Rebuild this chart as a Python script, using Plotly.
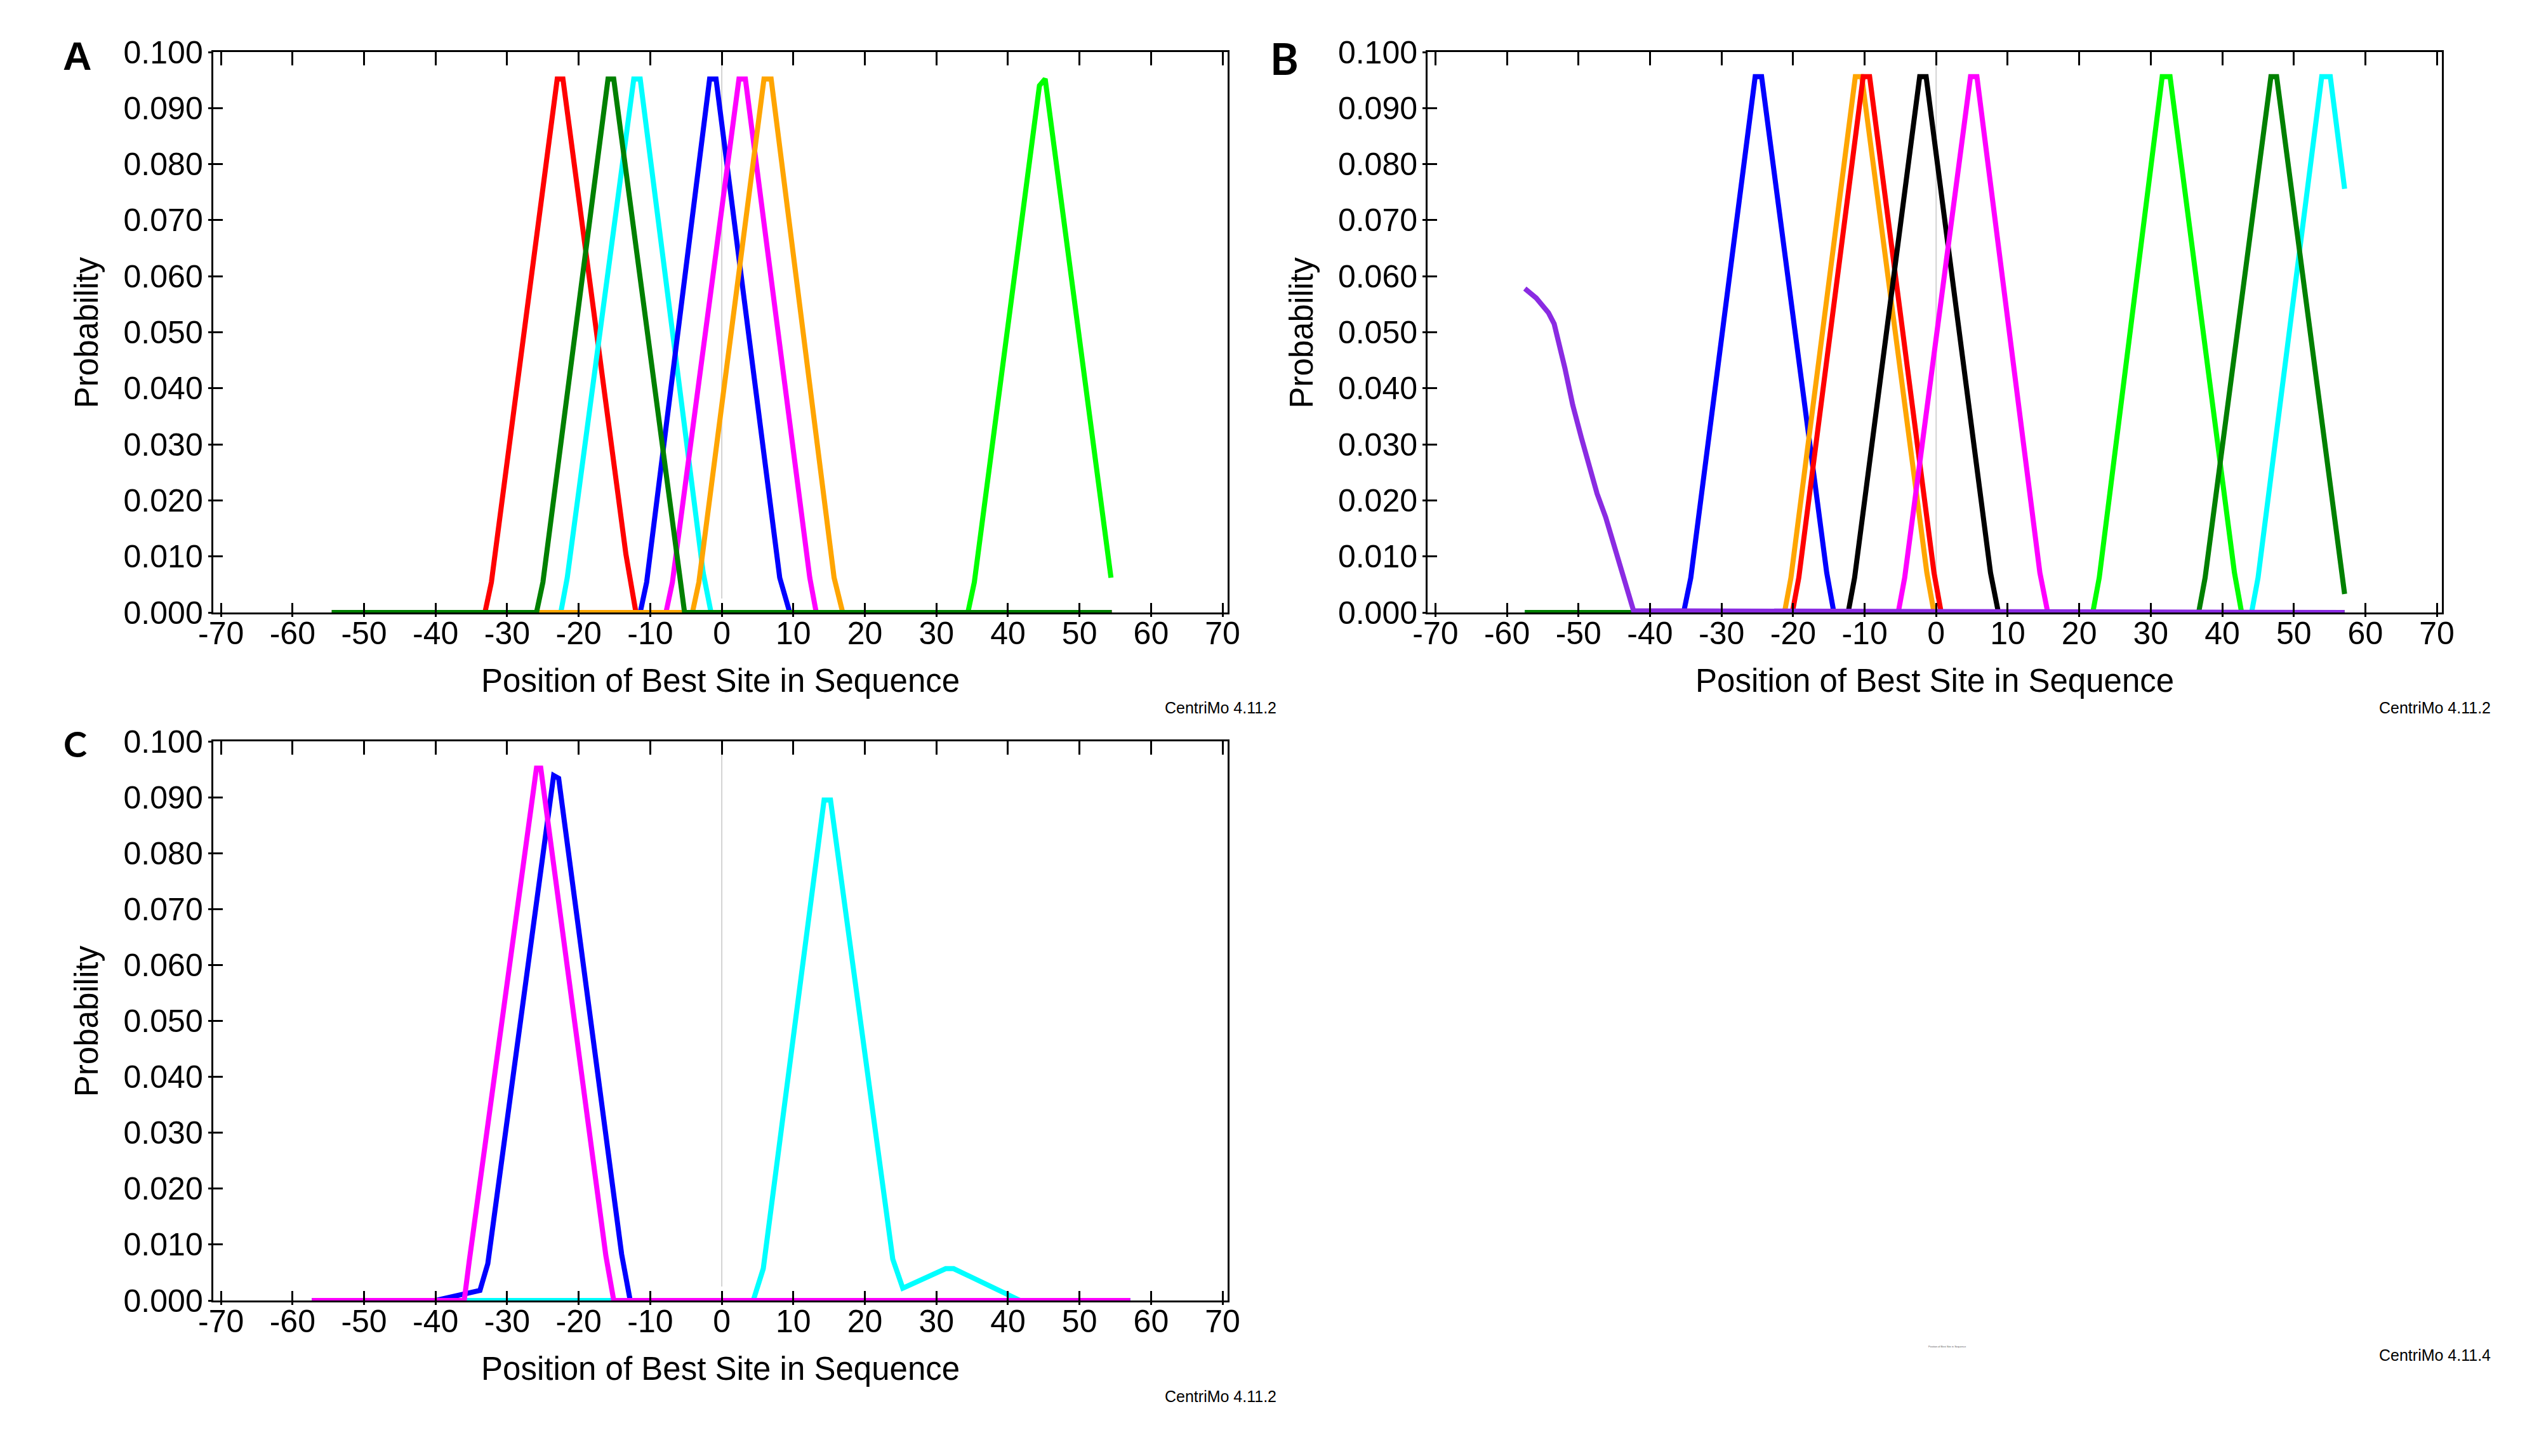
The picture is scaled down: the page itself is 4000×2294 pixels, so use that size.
import plotly.graph_objects as go

# ---- data ----
X_TICKS = list(range(-70, 71, 10))
X_LABELS = [str(v) for v in X_TICKS]
Y_TICKS = [0.0, 0.01, 0.02, 0.03, 0.04, 0.05, 0.06, 0.07, 0.08, 0.09, 0.1]
Y_LABELS = ["%.3f" % v for v in Y_TICKS]

# panel A
A_RED_X = [-54.5, -33.1, -32.2, -23.0, -22.2, -13.4, -12.0, 54.5]
A_RED_Y = [0, 0, 0.0054, 0.0952, 0.0952, 0.0104, 0, 0]
A_CYAN_X = [-54.5, -22.5, -21.6, -12.3, -11.4, -2.6, -1.5, 54.5]
A_CYAN_Y = [0, 0, 0.0062, 0.0952, 0.0952, 0.0071, 0, 0]
A_BLUE_X = [-54.5, -11.4, -10.5, -1.7, -0.8, 8.1, 9.5, 54.5]
A_BLUE_Y = [0, 0, 0.0054, 0.0952, 0.0952, 0.0062, 0, 0]
A_MAGENTA_X = [-54.5, -7.8, -6.9, 2.4, 3.3, 12.3, 13.2, 54.5]
A_MAGENTA_Y = [0, 0, 0.0054, 0.0952, 0.0952, 0.0062, 0, 0]
A_LIME_X = [-54.5, 34.4, 35.3, 44.4, 45.2, 54.4]
A_LIME_Y = [0, 0, 0.0054, 0.0940, 0.0952, 0.0062]
A_ORANGE_X = [-54.5, -4.1, -3.2, 5.9, 6.9, 15.7, 16.9, 54.5]
A_ORANGE_Y = [0, 0, 0.0054, 0.0952, 0.0952, 0.0062, 0, 0]
A_GREEN_X = [-54.5, -25.9, -25.0, -15.9, -15.1, -6.3, -5.2, 54.5]
A_GREEN_Y = [0, 0, 0.0054, 0.0952, 0.0952, 0.0096, 0, 0]

# panel B
B_BLUE_X = [-57.5, -35.3, -34.3, -25.3, -24.4, -15.3, -14.3, 57.1]
B_BLUE_Y = [0, 0, 0.0062, 0.0956, 0.0956, 0.0071, 0, 0]
B_ORANGE_X = [-57.5, -21.2, -20.3, -11.3, -10.4, -1.3, -0.3, 57.1]
B_ORANGE_Y = [0, 0, 0.0062, 0.0956, 0.0956, 0.0071, 0, 0]
B_RED_X = [-57.5, -20.1, -19.2, -10.2, -9.3, -0.3, 0.7, 57.1]
B_RED_Y = [0, 0, 0.0062, 0.0956, 0.0956, 0.0071, 0, 0]
B_BLACK_X = [-57.5, -12.3, -11.4, -2.3, -1.4, 7.6, 8.7, 57.1]
B_BLACK_Y = [0, 0, 0.0062, 0.0956, 0.0956, 0.0071, 0, 0]
B_MAGENTA_X = [-57.5, -5.3, -4.4, 4.8, 5.7, 14.5, 15.6, 57.1]
B_MAGENTA_Y = [0, 0, 0.0062, 0.0956, 0.0956, 0.0071, 0, 0]
B_LIME_X = [-57.5, 21.9, 22.8, 31.6, 32.7, 41.7, 42.7, 57.1]
B_LIME_Y = [0, 0, 0.0062, 0.0956, 0.0956, 0.0071, 0, 0]
B_CYAN_X = [-57.5, 44.1, 45.0, 53.9, 55.1, 57.1]
B_CYAN_Y = [0, 0, 0.0062, 0.0956, 0.0956, 0.0756]
B_GREEN_X = [-57.5, 36.7, 37.6, 46.8, 47.6, 57.1]
B_GREEN_Y = [0, 0, 0.0062, 0.0956, 0.0956, 0.0033]
B_PURPLE_X = [-57.5, -55.9, -54.2, -53.4, -51.9, -50.8, -49.6, -48.5,
              -47.4, -46.2, -45.1, -44.0, -43.2, -42.3, 57.1]
B_PURPLE_Y = [0.0578, 0.0561, 0.0535, 0.0515, 0.0436, 0.0370, 0.0312, 0.0262,
              0.0212, 0.0170, 0.0121, 0.0075, 0.0042, 0.0003, 0]

# panel C
C_BLUE_X = [-57.3, -40.0, -33.8, -32.7, -23.5, -22.8, -14.0, -12.8, 57.1]
C_BLUE_Y = [0, 0, 0.0018, 0.0066, 0.0939, 0.0934, 0.0083, 0, 0]
C_CYAN_X = [-57.3, 4.4, 5.8, 14.3, 15.2, 23.9, 25.3, 31.3, 32.4, 41.7, 57.1]
C_CYAN_Y = [0, 0, 0.0057, 0.0895, 0.0895, 0.0074, 0.0022, 0.0057, 0.0057, 0, 0]
C_MAGENTA_X = [-57.3, -36.0, -35.3, -25.9, -25.3, -16.2, -15.1, 57.1]
C_MAGENTA_Y = [0, 0, 0.0070, 0.0952, 0.0952, 0.0080, 0, 0]

PANEL_A = [(A_RED_X, A_RED_Y, "#ff0000"), (A_CYAN_X, A_CYAN_Y, "#00ffff"),
           (A_BLUE_X, A_BLUE_Y, "#0000ff"), (A_MAGENTA_X, A_MAGENTA_Y, "#ff00ff"),
           (A_LIME_X, A_LIME_Y, "#00ff00"), (A_ORANGE_X, A_ORANGE_Y, "#ffa500"),
           (A_GREEN_X, A_GREEN_Y, "#008000")]
PANEL_B = [(B_BLUE_X, B_BLUE_Y, "#0000ff"), (B_ORANGE_X, B_ORANGE_Y, "#ffa500"),
           (B_RED_X, B_RED_Y, "#ff0000"), (B_BLACK_X, B_BLACK_Y, "#000000"),
           (B_MAGENTA_X, B_MAGENTA_Y, "#ff00ff"), (B_LIME_X, B_LIME_Y, "#00ff00"),
           (B_CYAN_X, B_CYAN_Y, "#00ffff"), (B_GREEN_X, B_GREEN_Y, "#008000"),
           (B_PURPLE_X, B_PURPLE_Y, "#8a2be2")]
PANEL_C = [(C_BLUE_X, C_BLUE_Y, "#0000ff"), (C_CYAN_X, C_CYAN_Y, "#00ffff"),
           (C_MAGENTA_X, C_MAGENTA_Y, "#ff00ff")]

W, H = 4000, 2294
OFFSET = 8  # the page body margin shifts the whole figure by this many pixels
FONT = "Liberation Sans, Arial, sans-serif"

# pixel boxes of the three plot areas (left, right, top, bottom)
BOXES = {"": (335.7, 1934, 82, 965), "2": (2249, 3847, 82, 965), "3": (335.7, 1934, 1168, 2049)}


def px(x):
    return (x - OFFSET) / W


def py(y):
    return 1 - (y - OFFSET) / H


fig = go.Figure()

for suffix, series in (("", PANEL_A), ("2", PANEL_B), ("3", PANEL_C)):
    for xs, ys, color in series:
        fig.add_trace(go.Scatter(x=xs, y=ys, mode="lines", xaxis="x" + suffix, yaxis="y" + suffix,
                                 line=dict(color=color, width=8), showlegend=False, hoverinfo="skip"))

axis_common = dict(showgrid=False, zeroline=False, showline=True, linecolor="black", linewidth=3,
                   tickcolor="black", tickwidth=3, automargin=False,
                   tickfont=dict(family=FONT, size=50, color="black"))
stub_common = dict(tickwidth=3, tickcolor="black", showticklabels=False, showline=False,
                   showgrid=False, zeroline=False, automargin=False)

layout = dict(width=W, height=H, margin=dict(l=0, r=0, t=0, b=0, pad=0), autosize=False,
              paper_bgcolor="white", plot_bgcolor="white", showlegend=False)

overlay_id = 4
for suffix, (l, r, t, b) in BOXES.items():
    xname, yname = "xaxis" + suffix, "yaxis" + suffix
    xref, yref = "x" + suffix, "y" + suffix
    layout[xname] = dict(axis_common, domain=[px(l), px(r)], range=[-71.1, 70.7], anchor=yref,
                         tickvals=X_TICKS, ticktext=X_LABELS, ticks="inside", ticklen=15,
                         mirror=True, ticklabelstandoff=-13)
    layout[yname] = dict(axis_common, domain=[py(b), py(t)], range=[0, 0.1], anchor=xref,
                         tickvals=Y_TICKS, ticktext=Y_LABELS, ticks="inside", ticklen=15,
                         mirror=True, ticklabelstandoff=3)
    # extra tick-only axes: short outside stubs at bottom/left, longer ticks on top
    for side, ticks, tlen in (("bottom", "outside", 6), ("top", "inside", 21)):
        layout["xaxis%d" % overlay_id] = dict(stub_common, overlaying=xref, anchor=yref, side=side,
                                              range=[-71.1, 70.7], tickvals=X_TICKS, ticks=ticks,
                                              ticklen=tlen)
        fig.add_trace(go.Scatter(x=[None], y=[None], xaxis="x%d" % overlay_id, yaxis=yref,
                                 showlegend=False, hoverinfo="skip"))
        overlay_id += 1
    layout["yaxis%d" % overlay_id] = dict(stub_common, overlaying=yref, anchor=xref, side="left",
                                          range=[0, 0.1], tickvals=Y_TICKS, ticks="outside", ticklen=7)
    fig.add_trace(go.Scatter(x=[None], y=[None], xaxis=xref, yaxis="y%d" % overlay_id,
                             showlegend=False, hoverinfo="skip"))
    overlay_id += 1

fig.update_layout(**layout)

# faint centre line at position 0
for suffix in BOXES:
    fig.add_shape(type="line", xref="x" + suffix, yref="y" + suffix, x0=0, x1=0, y0=0.0025, y1=0.1,
                  line=dict(color="#d3d3d3", width=2), layer="below")

annotations = []
for suffix, (l, r, t, b) in BOXES.items():
    annotations.append(dict(text="Position of Best Site in Sequence", x=px((l + r) / 2), y=py(b + 107),
                            font=dict(family=FONT, size=51, color="black")))
    annotations.append(dict(text="Probability", x=px(l - 199), y=py((t + b) / 2), textangle=-90,
                            font=dict(family=FONT, size=51, color="black")))

annotations += [
    dict(text="<b>A</b>", x=px(122), y=py(88), font=dict(family=FONT, size=63, color="black")),
    dict(text="<b>B</b>", x=px(2023), y=py(92), font=dict(family="Lato, sans-serif", size=68, color="black")),
    dict(text="<b>C</b>", x=px(118), y=py(1171), font=dict(family="Lato, sans-serif", size=56, color="black")),
    dict(text="CentriMo 4.11.2", x=px(2013), y=py(1115), xanchor="right",
         font=dict(family=FONT, size=25, color="black")),
    dict(text="CentriMo 4.11.2", x=px(3926), y=py(1115), xanchor="right",
         font=dict(family=FONT, size=25, color="black")),
    dict(text="CentriMo 4.11.2", x=px(2013), y=py(2200), xanchor="right",
         font=dict(family=FONT, size=25, color="black")),
    dict(text="CentriMo 4.11.4", x=px(3926), y=py(2135), xanchor="right",
         font=dict(family=FONT, size=25, color="black")),
    dict(text="Position of Best Site in Sequence", x=px(3068), y=py(2121),
         font=dict(family=FONT, size=4, color="#555555")),
]
for a in annotations:
    a.update(xref="paper", yref="paper", showarrow=False)
    a.setdefault("xanchor", "center")
    a.setdefault("yanchor", "middle")
fig.update_layout(annotations=annotations)

fig.write_html("out.html")
